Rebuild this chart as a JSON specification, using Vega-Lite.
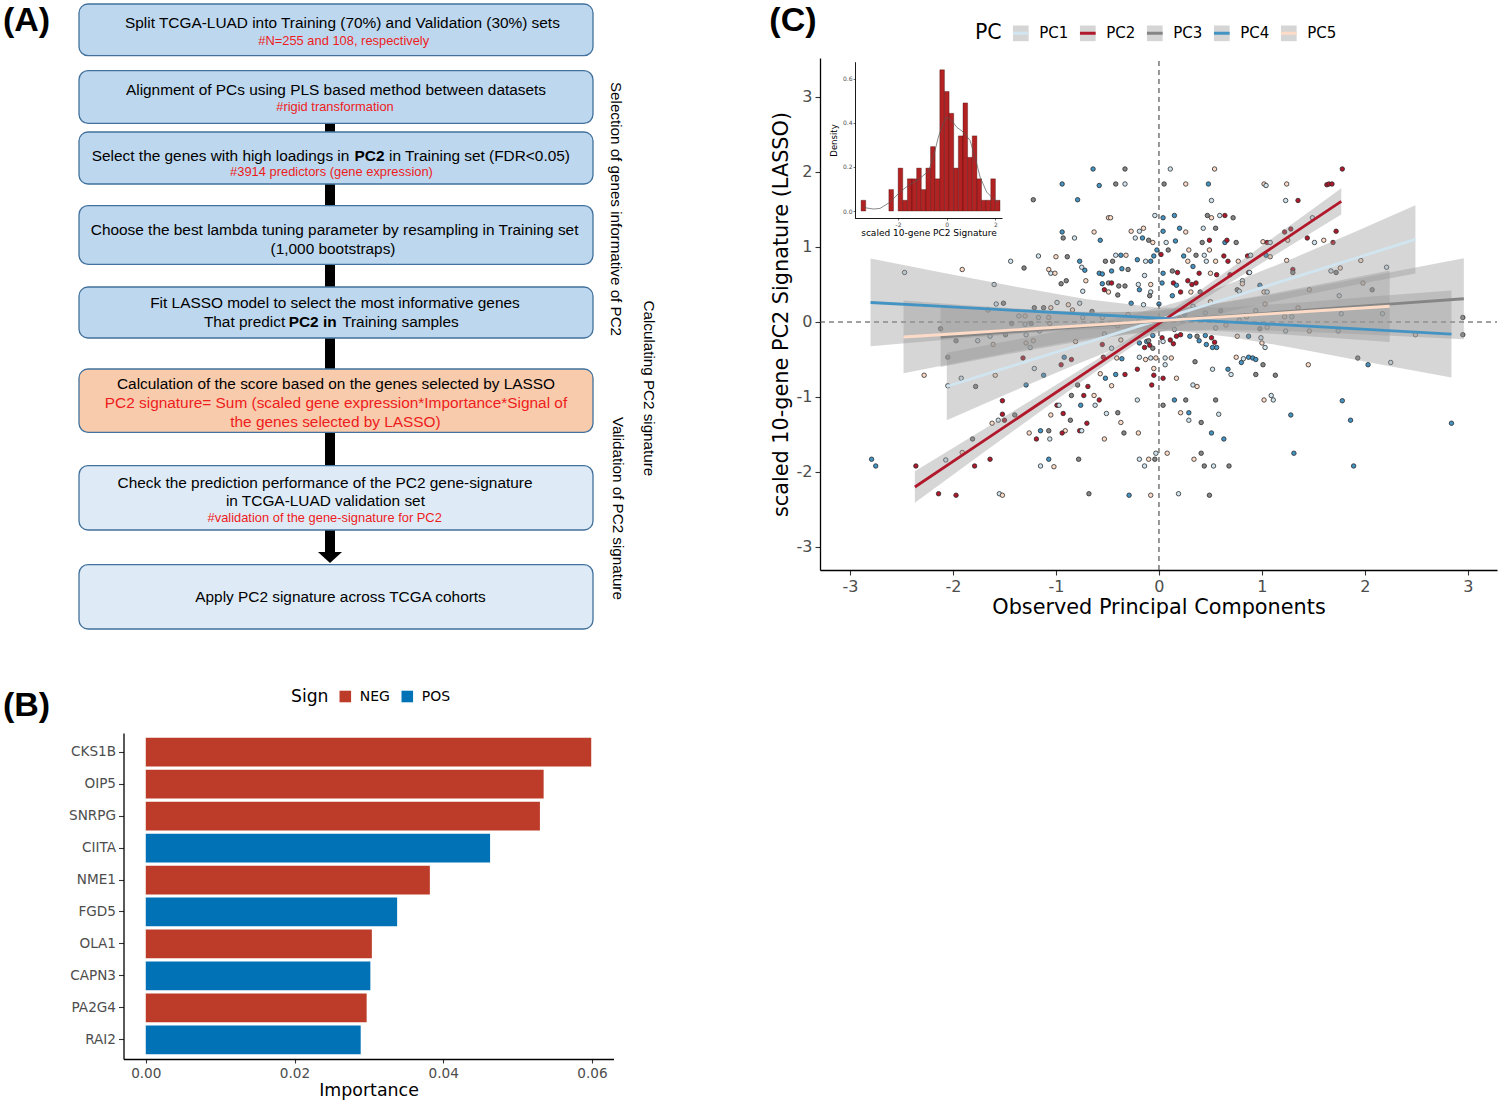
{
  "$schema": "https://vega.github.io/schema/vega-lite/v6.json",
  "width": 1500,
  "height": 1102,
  "autosize": {"type": "none"},
  "padding": 0,
  "background": "white",
  "config": {
    "view": {"stroke": null},
    "font": "DejaVu Sans",
    "axis": {"grid": false},
    "legend": {"padding": 0}
  },
  "datasets": {
    "flowBoxes": [
      {"x1": 0, "x2": 100, "y1": 0, "y2": 8.27, "kind": "step"},
      {"x1": 0, "x2": 100, "y1": 10.67, "y2": 19.09, "kind": "step"},
      {"x1": 0, "x2": 100, "y1": 20.48, "y2": 28.8, "kind": "step"},
      {"x1": 0, "x2": 100, "y1": 32.27, "y2": 41.65, "kind": "step"},
      {"x1": 0, "x2": 100, "y1": 45.28, "y2": 53.44, "kind": "step"},
      {"x1": 0, "x2": 100, "y1": 58.4, "y2": 68.53, "kind": "score"},
      {"x1": 0, "x2": 100, "y1": 73.87, "y2": 84.16, "kind": "check"},
      {"x1": 0, "x2": 100, "y1": 89.71, "y2": 100, "kind": "check"}
    ],
    "flowLinks": [
      {"x1": 47.86, "x2": 49.81, "y1": 18.8, "y2": 20.8},
      {"x1": 47.86, "x2": 49.81, "y1": 28.5, "y2": 32.6},
      {"x1": 47.86, "x2": 49.81, "y1": 41.3, "y2": 45.6},
      {"x1": 47.86, "x2": 49.81, "y1": 53.1, "y2": 58.7},
      {"x1": 47.86, "x2": 49.81, "y1": 68.2, "y2": 74.2},
      {"x1": 47.86, "x2": 49.81, "y1": 83.9, "y2": 88.0}
    ],
    "flowArrow": [{"x": 48.83, "y": 88.48}],
    "flowText": [
      {"t": "Split TCGA-LUAD into Training (70%) and Validation (30%) sets", "x": 51.25, "y": 3.09, "role": "main"},
      {"t": "#N=255 and 108, respectively", "x": 51.5, "y": 5.87, "role": "note"},
      {"t": "Alignment of PCs using PLS based method between datasets", "x": 50.0, "y": 13.76, "role": "main"},
      {"t": "#rigid transformation", "x": 49.8, "y": 16.43, "role": "note"},
      {"t": "Select the genes with high loadings in", "x": 2.49, "y": 24.27, "role": "mainL"},
      {"t": "PC2", "x": 53.6, "y": 24.27, "role": "boldL"},
      {"t": "in Training set (FDR<0.05)", "x": 60.31, "y": 24.27, "role": "mainL"},
      {"t": "#3914 predictors (gene expression)", "x": 49.12, "y": 26.93, "role": "note"},
      {"t": "Choose the best lambda tuning parameter by resampling in Training set", "x": 49.73, "y": 36.16, "role": "main"},
      {"t": "(1,000 bootstraps)", "x": 49.42, "y": 39.15, "role": "main"},
      {"t": "Fit LASSO model to select the most informative genes", "x": 49.8, "y": 47.89, "role": "main"},
      {"t": "That predict", "x": 24.3, "y": 50.83, "role": "mainL"},
      {"t": "PC2 in", "x": 40.8, "y": 50.83, "role": "boldL"},
      {"t": "Training samples", "x": 51.2, "y": 50.83, "role": "mainL"},
      {"t": "Calculation of the score based on the genes selected by LASSO", "x": 50.0, "y": 60.85, "role": "main"},
      {"t": "PC2 signature= Sum (scaled gene expression*Importance*Signal of", "x": 50.0, "y": 63.89, "role": "formula"},
      {"t": "the genes selected by LASSO)", "x": 49.9, "y": 66.83, "role": "formula"},
      {"t": "Check the prediction performance of the PC2 gene-signature", "x": 47.86, "y": 76.64, "role": "main"},
      {"t": "in TCGA-LUAD validation set", "x": 47.94, "y": 79.57, "role": "main"},
      {"t": "#validation of the gene-signature for PC2", "x": 47.8, "y": 82.29, "role": "note"},
      {"t": "Apply PC2 signature across TCGA cohorts", "x": 50.88, "y": 94.83, "role": "main"},
      {"t": "Selection of genes informative of PC2", "x": 104.57, "y": 32.8, "role": "side"},
      {"t": "Calculating PC2 signature", "x": 110.8, "y": 61.5, "role": "side"},
      {"t": "Validation of  PC2 signature", "x": 104.96, "y": 80.7, "role": "side"},
      {"t": "(A)", "x": -10.2, "y": 2.75, "role": "label"},
      {"t": "(B)", "x": -10.2, "y": 112.3, "role": "label"},
      {"t": "(C)", "x": 138.9, "y": 2.75, "role": "label"}
    ],
    "importance": [
      {"gene": "CKS1B", "importance": 0.0599, "sign": "NEG"},
      {"gene": "OIP5", "importance": 0.0535, "sign": "NEG"},
      {"gene": "SNRPG", "importance": 0.0530, "sign": "NEG"},
      {"gene": "CIITA", "importance": 0.0463, "sign": "POS"},
      {"gene": "NME1", "importance": 0.0382, "sign": "NEG"},
      {"gene": "FGD5", "importance": 0.0338, "sign": "POS"},
      {"gene": "OLA1", "importance": 0.0304, "sign": "NEG"},
      {"gene": "CAPN3", "importance": 0.0302, "sign": "POS"},
      {"gene": "PA2G4", "importance": 0.0297, "sign": "NEG"},
      {"gene": "RAI2", "importance": 0.0289, "sign": "POS"}
    ],
    "bands": [
      {"pc": "PC1", "x": -2.06, "fit": -0.860, "lo": -1.310, "hi": -0.410},
      {"pc": "PC1", "x": -1.5, "fit": -0.619, "lo": -0.973, "hi": -0.265},
      {"pc": "PC1", "x": -0.9, "fit": -0.360, "lo": -0.620, "hi": -0.100},
      {"pc": "PC1", "x": -0.3, "fit": -0.101, "lo": -0.286, "hi": 0.084},
      {"pc": "PC1", "x": 0.2, "fit": 0.114, "lo": -0.046, "hi": 0.274},
      {"pc": "PC1", "x": 0.7, "fit": 0.330, "lo": 0.145, "hi": 0.515},
      {"pc": "PC1", "x": 1.3, "fit": 0.588, "lo": 0.328, "hi": 0.848},
      {"pc": "PC1", "x": 1.9, "fit": 0.847, "lo": 0.493, "hi": 1.201},
      {"pc": "PC1", "x": 2.49, "fit": 1.101, "lo": 0.646, "hi": 1.556},
      {"pc": "PC2", "x": -2.37, "fit": -2.200, "lo": -2.410, "hi": -1.990},
      {"pc": "PC2", "x": -1.8, "fit": -1.676, "lo": -1.838, "hi": -1.514},
      {"pc": "PC2", "x": -1.2, "fit": -1.124, "lo": -1.239, "hi": -1.009},
      {"pc": "PC2", "x": -0.6, "fit": -0.572, "lo": -0.647, "hi": -0.497},
      {"pc": "PC2", "x": -0.1, "fit": -0.112, "lo": -0.172, "hi": -0.052},
      {"pc": "PC2", "x": 0.4, "fit": 0.348, "lo": 0.273, "hi": 0.423},
      {"pc": "PC2", "x": 1.0, "fit": 0.900, "lo": 0.785, "hi": 1.015},
      {"pc": "PC2", "x": 1.4, "fit": 1.268, "lo": 1.122, "hi": 1.414},
      {"pc": "PC2", "x": 1.77, "fit": 1.608, "lo": 1.432, "hi": 1.784},
      {"pc": "PC3", "x": -2.12, "fit": -0.200, "lo": -0.600, "hi": 0.200},
      {"pc": "PC3", "x": -1.5, "fit": -0.138, "lo": -0.438, "hi": 0.162},
      {"pc": "PC3", "x": -0.9, "fit": -0.077, "lo": -0.289, "hi": 0.135},
      {"pc": "PC3", "x": -0.3, "fit": -0.017, "lo": -0.167, "hi": 0.133},
      {"pc": "PC3", "x": 0.0, "fit": 0.013, "lo": -0.127, "hi": 0.153},
      {"pc": "PC3", "x": 0.5, "fit": 0.063, "lo": -0.103, "hi": 0.229},
      {"pc": "PC3", "x": 1.1, "fit": 0.123, "lo": -0.117, "hi": 0.363},
      {"pc": "PC3", "x": 1.7, "fit": 0.184, "lo": -0.148, "hi": 0.516},
      {"pc": "PC3", "x": 2.3, "fit": 0.244, "lo": -0.187, "hi": 0.675},
      {"pc": "PC3", "x": 2.96, "fit": 0.310, "lo": -0.230, "hi": 0.850},
      {"pc": "PC4", "x": -2.8, "fit": 0.260, "lo": -0.325, "hi": 0.845},
      {"pc": "PC4", "x": -2.1, "fit": 0.207, "lo": -0.241, "hi": 0.655},
      {"pc": "PC4", "x": -1.4, "fit": 0.155, "lo": -0.162, "hi": 0.472},
      {"pc": "PC4", "x": -0.7, "fit": 0.103, "lo": -0.096, "hi": 0.302},
      {"pc": "PC4", "x": 0.0, "fit": 0.051, "lo": -0.089, "hi": 0.191},
      {"pc": "PC4", "x": 0.7, "fit": -0.001, "lo": -0.200, "hi": 0.198},
      {"pc": "PC4", "x": 1.4, "fit": -0.053, "lo": -0.370, "hi": 0.264},
      {"pc": "PC4", "x": 2.1, "fit": -0.105, "lo": -0.553, "hi": 0.343},
      {"pc": "PC4", "x": 2.84, "fit": -0.161, "lo": -0.741, "hi": 0.419},
      {"pc": "PC5", "x": -2.48, "fit": -0.200, "lo": -0.685, "hi": 0.285},
      {"pc": "PC5", "x": -1.9, "fit": -0.150, "lo": -0.526, "hi": 0.226},
      {"pc": "PC5", "x": -1.3, "fit": -0.097, "lo": -0.366, "hi": 0.172},
      {"pc": "PC5", "x": -0.7, "fit": -0.045, "lo": -0.220, "hi": 0.130},
      {"pc": "PC5", "x": -0.1, "fit": 0.007, "lo": -0.123, "hi": 0.137},
      {"pc": "PC5", "x": 0.5, "fit": 0.059, "lo": -0.116, "hi": 0.234},
      {"pc": "PC5", "x": 1.1, "fit": 0.111, "lo": -0.158, "hi": 0.380},
      {"pc": "PC5", "x": 1.7, "fit": 0.163, "lo": -0.213, "hi": 0.539},
      {"pc": "PC5", "x": 2.24, "fit": 0.210, "lo": -0.267, "hi": 0.687}
    ],
    "hist": [
      {"x0": -3.520, "x1": -3.330, "density": 0.0487},
      {"x0": -2.378, "x1": -2.188, "density": 0.0973},
      {"x0": -1.998, "x1": -1.808, "density": 0.1946},
      {"x0": -1.808, "x1": -1.617, "density": 0.0487},
      {"x0": -1.617, "x1": -1.427, "density": 0.1460},
      {"x0": -1.427, "x1": -1.237, "density": 0.1460},
      {"x0": -1.237, "x1": -1.046, "density": 0.1946},
      {"x0": -1.046, "x1": -0.856, "density": 0.0973},
      {"x0": -0.856, "x1": -0.666, "density": 0.1946},
      {"x0": -0.666, "x1": -0.476, "density": 0.2920},
      {"x0": -0.476, "x1": -0.285, "density": 0.1460},
      {"x0": -0.285, "x1": -0.095, "density": 0.6400},
      {"x0": -0.095, "x1": 0.096, "density": 0.5420},
      {"x0": 0.096, "x1": 0.286, "density": 0.4430},
      {"x0": 0.286, "x1": 0.476, "density": 0.1946},
      {"x0": 0.476, "x1": 0.667, "density": 0.3406},
      {"x0": 0.667, "x1": 0.857, "density": 0.4900},
      {"x0": 0.857, "x1": 1.047, "density": 0.2433},
      {"x0": 1.047, "x1": 1.238, "density": 0.3406},
      {"x0": 1.238, "x1": 1.428, "density": 0.1460},
      {"x0": 1.428, "x1": 1.618, "density": 0.0487},
      {"x0": 1.618, "x1": 1.809, "density": 0.0487},
      {"x0": 1.809, "x1": 1.999, "density": 0.1460},
      {"x0": 1.999, "x1": 2.189, "density": 0.0487}
    ],
    "density": [
      {"x": -3.42, "d": 0.018},
      {"x": -3.31, "d": 0.014},
      {"x": -3.0, "d": 0.009},
      {"x": -2.74, "d": 0.012},
      {"x": -2.33, "d": 0.040},
      {"x": -1.92, "d": 0.086},
      {"x": -1.58, "d": 0.116},
      {"x": -1.17, "d": 0.142},
      {"x": -0.755, "d": 0.180},
      {"x": -0.55, "d": 0.245},
      {"x": -0.345, "d": 0.335},
      {"x": -0.14, "d": 0.400},
      {"x": 0.0, "d": 0.426},
      {"x": 0.205, "d": 0.410},
      {"x": 0.41, "d": 0.380},
      {"x": 0.68, "d": 0.358},
      {"x": 0.957, "d": 0.320},
      {"x": 1.16, "d": 0.245},
      {"x": 1.37, "d": 0.154},
      {"x": 1.64, "d": 0.086},
      {"x": 1.91, "d": 0.056},
      {"x": 2.1, "d": 0.042}
    ],
    "points": [
      {"pc":"PC1","x":-2.47,"y":0.66},{"pc":"PC5","x":-1.91,"y":0.70},{"pc":"PC3","x":-2.12,"y":-0.09},{"pc":"PC3","x":-1.97,"y":-0.25},
      {"pc":"PC1","x":-1.76,"y":-0.25},{"pc":"PC3","x":-2.05,"y":-0.47},{"pc":"PC5","x":-2.28,"y":-0.71},{"pc":"PC1","x":-1.92,"y":-0.75},
      {"pc":"PC3","x":-1.78,"y":-0.86},{"pc":"PC1","x":-2.05,"y":-0.85},{"pc":"PC3","x":-1.81,"y":-1.56},{"pc":"PC5","x":-1.91,"y":-1.74},
      {"pc":"PC1","x":-2.07,"y":-1.84},{"pc":"PC4","x":-2.79,"y":-1.83},{"pc":"PC4","x":-2.75,"y":-1.92},{"pc":"PC2","x":-2.36,"y":-1.92},
      {"pc":"PC2","x":-1.79,"y":-1.92},{"pc":"PC2","x":-2.14,"y":-2.29},{"pc":"PC2","x":-1.97,"y":-2.31},
      {"pc":"PC4","x":-0.64,"y":2.04},{"pc":"PC4","x":-0.94,"y":1.84},{"pc":"PC4","x":-0.58,"y":1.82},{"pc":"PC3","x":-1.22,"y":1.63},
      {"pc":"PC4","x":-0.79,"y":1.63},{"pc":"PC5","x":-0.49,"y":1.39},{"pc":"PC4","x":-0.94,"y":1.20},{"pc":"PC3","x":-0.93,"y":1.12},
      {"pc":"PC1","x":-0.82,"y":1.12},{"pc":"PC5","x":-0.63,"y":1.20},{"pc":"PC4","x":-0.57,"y":1.09},{"pc":"PC1","x":-1.17,"y":0.88},
      {"pc":"PC5","x":-1.00,"y":0.87},{"pc":"PC3","x":-0.89,"y":0.87},{"pc":"PC1","x":-1.44,"y":0.81},{"pc":"PC3","x":-1.31,"y":0.72},
      {"pc":"PC5","x":-1.07,"y":0.70},{"pc":"PC1","x":-1.05,"y":0.65},{"pc":"PC5","x":-1.01,"y":0.65},{"pc":"PC4","x":-0.77,"y":0.81},
      {"pc":"PC1","x":-0.75,"y":0.73},{"pc":"PC4","x":-0.72,"y":0.69},{"pc":"PC3","x":-0.52,"y":0.81},{"pc":"PC4","x":-0.58,"y":0.65},
      {"pc":"PC4","x":-0.55,"y":0.64},{"pc":"PC3","x":-0.95,"y":0.51},{"pc":"PC3","x":-0.90,"y":0.55},{"pc":"PC5","x":-0.71,"y":0.55},
      {"pc":"PC1","x":-0.74,"y":0.41},{"pc":"PC4","x":-0.55,"y":0.51},{"pc":"PC2","x":-0.53,"y":0.43},{"pc":"PC5","x":-0.49,"y":0.40},
      {"pc":"PC3","x":-0.49,"y":0.52},{"pc":"PC1","x":-1.60,"y":0.50},{"pc":"PC3","x":-1.51,"y":0.25},{"pc":"PC5","x":-1.66,"y":0.16},
      {"pc":"PC1","x":-1.58,"y":0.24},{"pc":"PC3","x":-1.21,"y":0.19},{"pc":"PC3","x":-1.12,"y":0.19},{"pc":"PC5","x":-1.05,"y":0.19},
      {"pc":"PC1","x":-0.99,"y":0.26},{"pc":"PC5","x":-0.88,"y":0.23},{"pc":"PC1","x":-0.77,"y":0.25},{"pc":"PC5","x":-0.84,"y":0.16},
      {"pc":"PC1","x":-1.36,"y":0.08},{"pc":"PC5","x":-1.30,"y":0.08},{"pc":"PC1","x":-1.17,"y":0.06},{"pc":"PC5","x":-1.07,"y":0.06},
      {"pc":"PC1","x":-0.74,"y":0.06},{"pc":"PC3","x":-0.65,"y":0.14},{"pc":"PC5","x":-0.55,"y":0.06},{"pc":"PC3","x":-1.43,"y":-0.02},
      {"pc":"PC1","x":-1.30,"y":-0.03},{"pc":"PC3","x":-1.24,"y":-0.02},{"pc":"PC5","x":-1.06,"y":-0.02},{"pc":"PC1","x":-1.64,"y":-0.19},
      {"pc":"PC3","x":-1.49,"y":-0.17},{"pc":"PC5","x":-1.61,"y":-0.30},{"pc":"PC1","x":-1.29,"y":-0.17},{"pc":"PC5","x":-1.22,"y":-0.25},
      {"pc":"PC1","x":-1.16,"y":-0.12},{"pc":"PC5","x":-1.29,"y":-0.28},{"pc":"PC1","x":-1.25,"y":-0.34},{"pc":"PC5","x":-0.81,"y":-0.26},
      {"pc":"PC1","x":-0.53,"y":-0.16},{"pc":"PC2","x":-0.55,"y":-0.30},{"pc":"PC2","x":-1.32,"y":-0.48},{"pc":"PC4","x":-0.92,"y":-0.47},
      {"pc":"PC2","x":-0.95,"y":-0.57},{"pc":"PC2","x":-0.85,"y":-0.50},{"pc":"PC2","x":-0.54,"y":-0.47},{"pc":"PC5","x":-1.59,"y":-0.71},
      {"pc":"PC1","x":-1.21,"y":-0.62},{"pc":"PC4","x":-1.12,"y":-0.71},{"pc":"PC4","x":-1.29,"y":-0.84},{"pc":"PC3","x":-0.79,"y":-0.84},
      {"pc":"PC2","x":-0.69,"y":-0.86},{"pc":"PC5","x":-0.57,"y":-0.69},{"pc":"PC4","x":-0.52,"y":-0.75},{"pc":"PC2","x":-1.52,"y":-1.05},
      {"pc":"PC2","x":-1.52,"y":-1.23},{"pc":"PC2","x":-1.50,"y":-1.31},{"pc":"PC1","x":-1.56,"y":-1.31},{"pc":"PC5","x":-1.62,"y":-1.35},
      {"pc":"PC3","x":-1.40,"y":-1.24},{"pc":"PC2","x":-0.99,"y":-1.11},{"pc":"PC1","x":-0.97,"y":-1.11},{"pc":"PC3","x":-0.85,"y":-0.98},
      {"pc":"PC2","x":-0.73,"y":-0.98},{"pc":"PC4","x":-0.76,"y":-1.11},{"pc":"PC5","x":-0.63,"y":-0.98},{"pc":"PC2","x":-0.58,"y":-1.04},
      {"pc":"PC1","x":-0.62,"y":-1.11},{"pc":"PC2","x":-0.93,"y":-1.22},{"pc":"PC5","x":-1.05,"y":-1.24},{"pc":"PC3","x":-0.86,"y":-1.31},
      {"pc":"PC2","x":-0.70,"y":-1.35},{"pc":"PC1","x":-0.51,"y":-1.22},{"pc":"PC5","x":-1.26,"y":-1.48},{"pc":"PC4","x":-1.15,"y":-1.45},
      {"pc":"PC3","x":-1.07,"y":-1.45},{"pc":"PC1","x":-1.06,"y":-1.56},{"pc":"PC2","x":-1.19,"y":-1.56},{"pc":"PC5","x":-0.91,"y":-1.45},
      {"pc":"PC2","x":-0.94,"y":-1.48},{"pc":"PC2","x":-0.77,"y":-1.45},{"pc":"PC1","x":-0.75,"y":-1.45},{"pc":"PC5","x":-0.53,"y":-1.56},
      {"pc":"PC2","x":-1.64,"y":-1.83},{"pc":"PC4","x":-1.07,"y":-1.83},{"pc":"PC1","x":-1.15,"y":-1.92},{"pc":"PC5","x":-1.02,"y":-1.93},
      {"pc":"PC3","x":-0.78,"y":-1.83},{"pc":"PC1","x":-1.55,"y":-2.29},{"pc":"PC5","x":-1.52,"y":-2.31},{"pc":"PC3","x":-0.68,"y":-2.29},
      {"pc":"PC3","x":-0.33,"y":2.04},{"pc":"PC1","x":0.11,"y":2.04},{"pc":"PC5","x":0.54,"y":2.04},{"pc":"PC3","x":-0.42,"y":1.84},
      {"pc":"PC1","x":-0.33,"y":1.84},{"pc":"PC3","x":0.05,"y":1.84},{"pc":"PC5","x":0.26,"y":1.84},{"pc":"PC4","x":0.48,"y":1.84},
      {"pc":"PC1","x":0.51,"y":1.62},{"pc":"PC5","x":-0.47,"y":1.39},{"pc":"PC1","x":-0.04,"y":1.42},{"pc":"PC4","x":0.04,"y":1.39},
      {"pc":"PC4","x":0.15,"y":1.42},{"pc":"PC3","x":0.47,"y":1.42},{"pc":"PC5","x":0.51,"y":1.39},{"pc":"PC1","x":0.59,"y":1.42},
      {"pc":"PC2","x":0.64,"y":1.42},{"pc":"PC3","x":0.72,"y":1.39},{"pc":"PC5","x":-0.27,"y":1.21},{"pc":"PC1","x":-0.19,"y":1.21},
      {"pc":"PC5","x":-0.15,"y":1.25},{"pc":"PC1","x":-0.23,"y":1.12},{"pc":"PC4","x":-0.16,"y":1.12},{"pc":"PC3","x":-0.10,"y":1.09},
      {"pc":"PC5","x":-0.06,"y":1.06},{"pc":"PC4","x":0.04,"y":1.21},{"pc":"PC1","x":0.07,"y":1.06},{"pc":"PC4","x":0.16,"y":1.08},
      {"pc":"PC4","x":0.20,"y":1.25},{"pc":"PC5","x":0.26,"y":1.20},{"pc":"PC1","x":0.43,"y":1.25},{"pc":"PC3","x":0.55,"y":1.25},
      {"pc":"PC3","x":0.42,"y":1.06},{"pc":"PC2","x":0.49,"y":1.09},{"pc":"PC4","x":0.64,"y":1.06},{"pc":"PC2","x":0.66,"y":1.09},
      {"pc":"PC5","x":0.29,"y":0.96},{"pc":"PC4","x":-0.02,"y":0.96},{"pc":"PC3","x":0.09,"y":0.96},{"pc":"PC1","x":-0.42,"y":0.89},
      {"pc":"PC4","x":-0.37,"y":0.89},{"pc":"PC5","x":-0.32,"y":0.89},{"pc":"PC3","x":-0.45,"y":0.81},{"pc":"PC4","x":-0.21,"y":0.83},
      {"pc":"PC1","x":-0.13,"y":0.81},{"pc":"PC4","x":-0.08,"y":0.81},{"pc":"PC4","x":-0.05,"y":0.88},{"pc":"PC2","x":0.02,"y":0.90},
      {"pc":"PC5","x":0.28,"y":0.81},{"pc":"PC4","x":0.24,"y":0.88},{"pc":"PC3","x":0.36,"y":0.89},{"pc":"PC1","x":0.44,"y":0.89},
      {"pc":"PC5","x":0.49,"y":0.96},{"pc":"PC1","x":0.46,"y":0.81},{"pc":"PC5","x":0.55,"y":0.81},{"pc":"PC2","x":0.63,"y":0.88},
      {"pc":"PC2","x":0.67,"y":0.81},{"pc":"PC4","x":-0.36,"y":0.71},{"pc":"PC3","x":-0.30,"y":0.70},{"pc":"PC4","x":-0.46,"y":0.68},
      {"pc":"PC1","x":-0.14,"y":0.62},{"pc":"PC4","x":0.04,"y":0.65},{"pc":"PC3","x":0.13,"y":0.68},{"pc":"PC2","x":0.18,"y":0.66},
      {"pc":"PC4","x":0.33,"y":0.74},{"pc":"PC2","x":0.39,"y":0.65},{"pc":"PC5","x":0.50,"y":0.65},{"pc":"PC2","x":0.56,"y":0.63},
      {"pc":"PC2","x":0.69,"y":0.63},{"pc":"PC2","x":-0.46,"y":0.52},{"pc":"PC3","x":-0.39,"y":0.48},{"pc":"PC3","x":-0.33,"y":0.48},
      {"pc":"PC1","x":-0.20,"y":0.50},{"pc":"PC5","x":-0.08,"y":0.50},{"pc":"PC4","x":0.03,"y":0.52},{"pc":"PC2","x":0.14,"y":0.52},
      {"pc":"PC4","x":0.17,"y":0.49},{"pc":"PC2","x":0.28,"y":0.55},{"pc":"PC2","x":0.32,"y":0.50},{"pc":"PC2","x":0.36,"y":0.52},
      {"pc":"PC4","x":-0.19,"y":0.43},{"pc":"PC1","x":-0.08,"y":0.40},{"pc":"PC2","x":0.21,"y":0.40},{"pc":"PC5","x":0.31,"y":0.40},
      {"pc":"PC3","x":0.40,"y":0.40},{"pc":"PC3","x":-0.40,"y":0.36},{"pc":"PC4","x":0.13,"y":0.35},{"pc":"PC4","x":0.00,"y":0.24},
      {"pc":"PC3","x":-0.09,"y":0.35},{"pc":"PC4","x":-0.27,"y":0.25},{"pc":"PC1","x":-0.15,"y":0.23},{"pc":"PC5","x":0.50,"y":0.27},
      {"pc":"PC1","x":0.33,"y":0.21},{"pc":"PC5","x":0.65,"y":-0.04},{"pc":"PC4","x":0.30,"y":-0.19},{"pc":"PC3","x":0.37,"y":-0.19},
      {"pc":"PC4","x":-0.06,"y":-0.18},{"pc":"PC2","x":0.03,"y":-0.21},{"pc":"PC1","x":0.04,"y":-0.26},{"pc":"PC2","x":0.11,"y":-0.24},
      {"pc":"PC2","x":0.14,"y":-0.29},{"pc":"PC2","x":0.17,"y":-0.19},{"pc":"PC2","x":0.21,"y":-0.17},{"pc":"PC4","x":0.39,"y":-0.25},
      {"pc":"PC4","x":0.45,"y":-0.18},{"pc":"PC4","x":0.46,"y":-0.30},{"pc":"PC2","x":0.51,"y":-0.21},{"pc":"PC2","x":0.54,"y":-0.27},
      {"pc":"PC4","x":0.52,"y":-0.34},{"pc":"PC4","x":0.56,"y":-0.34},{"pc":"PC5","x":-0.37,"y":-0.24},{"pc":"PC4","x":-0.19,"y":-0.28},
      {"pc":"PC4","x":-0.12,"y":-0.26},{"pc":"PC3","x":-0.10,"y":-0.25},{"pc":"PC2","x":-0.14,"y":-0.34},{"pc":"PC2","x":-0.09,"y":-0.31},
      {"pc":"PC3","x":-0.06,"y":-0.35},{"pc":"PC1","x":-0.46,"y":-0.35},{"pc":"PC5","x":-0.41,"y":-0.48},{"pc":"PC4","x":-0.36,"y":-0.49},
      {"pc":"PC1","x":-0.19,"y":-0.47},{"pc":"PC5","x":-0.13,"y":-0.50},{"pc":"PC1","x":-0.08,"y":-0.48},{"pc":"PC5","x":-0.03,"y":-0.48},
      {"pc":"PC1","x":0.06,"y":-0.48},{"pc":"PC5","x":0.12,"y":-0.48},{"pc":"PC1","x":0.06,"y":-0.57},{"pc":"PC3","x":0.35,"y":-0.53},
      {"pc":"PC2","x":-0.21,"y":-0.63},{"pc":"PC5","x":-0.05,"y":-0.62},{"pc":"PC2","x":-0.05,"y":-0.71},{"pc":"PC1","x":0.52,"y":-0.63},
      {"pc":"PC4","x":0.67,"y":-0.63},{"pc":"PC4","x":-0.42,"y":-0.70},{"pc":"PC2","x":-0.33,"y":-0.70},{"pc":"PC2","x":0.04,"y":-0.75},
      {"pc":"PC5","x":0.17,"y":-0.75},{"pc":"PC1","x":0.70,"y":-0.70},{"pc":"PC5","x":-0.46,"y":-0.85},{"pc":"PC2","x":-0.07,"y":-0.84},
      {"pc":"PC1","x":0.33,"y":-0.84},{"pc":"PC5","x":0.37,"y":-0.86},{"pc":"PC1","x":-0.21,"y":-1.04},{"pc":"PC4","x":0.15,"y":-1.04},
      {"pc":"PC3","x":0.26,"y":-1.04},{"pc":"PC3","x":0.55,"y":-1.04},{"pc":"PC3","x":0.04,"y":-1.11},{"pc":"PC3","x":-0.40,"y":-1.21},
      {"pc":"PC4","x":0.29,"y":-1.21},{"pc":"PC5","x":0.21,"y":-1.21},{"pc":"PC1","x":0.58,"y":-1.23},{"pc":"PC5","x":-0.37,"y":-1.34},
      {"pc":"PC1","x":0.29,"y":-1.31},{"pc":"PC3","x":0.41,"y":-1.34},{"pc":"PC3","x":-0.34,"y":-1.48},{"pc":"PC5","x":-0.20,"y":-1.48},
      {"pc":"PC4","x":0.51,"y":-1.48},{"pc":"PC4","x":0.63,"y":-1.56},{"pc":"PC3","x":0.41,"y":-1.75},{"pc":"PC1","x":-0.03,"y":-1.75},
      {"pc":"PC5","x":0.08,"y":-1.75},{"pc":"PC1","x":-0.19,"y":-1.83},{"pc":"PC5","x":-0.10,"y":-1.83},{"pc":"PC3","x":-0.04,"y":-1.83},
      {"pc":"PC1","x":-0.14,"y":-1.92},{"pc":"PC5","x":0.34,"y":-1.83},{"pc":"PC3","x":0.44,"y":-1.92},{"pc":"PC1","x":0.53,"y":-1.92},
      {"pc":"PC3","x":0.68,"y":-1.92},{"pc":"PC4","x":-0.29,"y":-2.31},{"pc":"PC5","x":-0.08,"y":-2.31},{"pc":"PC1","x":0.19,"y":-2.29},
      {"pc":"PC3","x":0.49,"y":-2.31},
      {"pc":"PC5","x":-0.30,"y":0.10},{"pc":"PC3","x":0.20,"y":0.05},{"pc":"PC1","x":0.45,"y":0.12},{"pc":"PC5","x":-0.40,"y":-0.05},
      {"pc":"PC3","x":0.60,"y":0.15},{"pc":"PC1","x":0.15,"y":-0.10},{"pc":"PC5","x":-0.20,"y":0.00},{"pc":"PC4","x":0.25,"y":0.10},
      {"pc":"PC1","x":0.55,"y":-0.08},
      {"pc":"PC2","x":1.78,"y":2.04},{"pc":"PC5","x":1.02,"y":1.84},{"pc":"PC1","x":1.04,"y":1.82},{"pc":"PC5","x":1.24,"y":1.84},
      {"pc":"PC2","x":1.63,"y":1.83},{"pc":"PC2","x":1.65,"y":1.84},{"pc":"PC2","x":1.68,"y":1.84},{"pc":"PC1","x":1.23,"y":1.62},
      {"pc":"PC2","x":1.35,"y":1.62},{"pc":"PC3","x":0.75,"y":1.06},{"pc":"PC5","x":1.01,"y":1.07},{"pc":"PC2","x":1.05,"y":1.06},
      {"pc":"PC1","x":1.08,"y":1.06},{"pc":"PC2","x":1.22,"y":1.20},{"pc":"PC2","x":1.28,"y":1.24},{"pc":"PC5","x":1.25,"y":1.09},
      {"pc":"PC2","x":1.44,"y":1.12},{"pc":"PC1","x":1.51,"y":1.06},{"pc":"PC5","x":1.60,"y":1.09},{"pc":"PC2","x":1.72,"y":1.21},
      {"pc":"PC2","x":1.69,"y":1.06},{"pc":"PC1","x":1.49,"y":1.39},{"pc":"PC5","x":0.77,"y":0.81},{"pc":"PC2","x":0.86,"y":0.88},
      {"pc":"PC1","x":0.89,"y":0.89},{"pc":"PC4","x":1.04,"y":0.89},{"pc":"PC5","x":1.08,"y":0.87},{"pc":"PC2","x":0.87,"y":0.66},
      {"pc":"PC1","x":0.88,"y":0.66},{"pc":"PC5","x":1.24,"y":0.82},{"pc":"PC2","x":1.30,"y":0.70},{"pc":"PC3","x":1.30,"y":0.66},
      {"pc":"PC1","x":1.67,"y":0.68},{"pc":"PC3","x":1.72,"y":0.66},{"pc":"PC5","x":1.76,"y":0.72},{"pc":"PC1","x":0.81,"y":0.55},
      {"pc":"PC5","x":0.81,"y":0.51},{"pc":"PC4","x":0.98,"y":0.49},{"pc":"PC3","x":0.76,"y":0.43},{"pc":"PC1","x":0.78,"y":0.41},
      {"pc":"PC5","x":1.02,"y":0.40},{"pc":"PC1","x":1.05,"y":0.40},{"pc":"PC5","x":1.46,"y":0.43},{"pc":"PC1","x":1.75,"y":0.35},
      {"pc":"PC5","x":1.03,"y":0.24},{"pc":"PC1","x":0.94,"y":0.15},{"pc":"PC5","x":1.35,"y":0.19},{"pc":"PC1","x":1.77,"y":0.11},
      {"pc":"PC5","x":1.22,"y":0.07},{"pc":"PC1","x":1.29,"y":0.07},{"pc":"PC5","x":0.85,"y":0.07},{"pc":"PC1","x":0.78,"y":0.02},
      {"pc":"PC5","x":1.05,"y":-0.07},{"pc":"PC3","x":0.98,"y":-0.09},{"pc":"PC1","x":1.23,"y":-0.12},{"pc":"PC5","x":1.46,"y":-0.12},
      {"pc":"PC1","x":1.74,"y":-0.12},{"pc":"PC5","x":0.76,"y":-0.19},{"pc":"PC4","x":0.87,"y":-0.19},{"pc":"PC1","x":0.99,"y":-0.21},
      {"pc":"PC5","x":1.00,"y":-0.28},{"pc":"PC1","x":1.03,"y":-0.34},{"pc":"PC5","x":0.75,"y":-0.47},{"pc":"PC4","x":0.80,"y":-0.54},
      {"pc":"PC1","x":0.82,"y":-0.49},{"pc":"PC4","x":0.87,"y":-0.47},{"pc":"PC4","x":0.91,"y":-0.48},{"pc":"PC4","x":0.94,"y":-0.50},
      {"pc":"PC3","x":1.01,"y":-0.57},{"pc":"PC3","x":0.94,"y":-0.70},{"pc":"PC3","x":1.13,"y":-0.71},{"pc":"PC5","x":1.45,"y":-0.57},
      {"pc":"PC3","x":1.93,"y":-0.48},{"pc":"PC1","x":1.09,"y":-0.98},{"pc":"PC5","x":1.02,"y":-1.04},{"pc":"PC1","x":1.11,"y":-1.04},
      {"pc":"PC4","x":1.78,"y":-1.05},{"pc":"PC4","x":1.28,"y":-1.24},{"pc":"PC4","x":1.86,"y":-1.31},{"pc":"PC4","x":1.31,"y":-1.75},
      {"pc":"PC4","x":1.89,"y":-1.92},
      {"pc":"PC5","x":1.96,"y":0.82},{"pc":"PC1","x":2.21,"y":0.73},{"pc":"PC5","x":1.98,"y":0.52},{"pc":"PC3","x":2.07,"y":0.43},
      {"pc":"PC1","x":2.17,"y":0.11},{"pc":"PC3","x":2.95,"y":0.06},{"pc":"PC3","x":2.95,"y":-0.17},{"pc":"PC5","x":2.49,"y":-0.17},
      {"pc":"PC4","x":2.03,"y":-0.57},{"pc":"PC1","x":2.25,"y":-0.54},{"pc":"PC4","x":2.84,"y":-1.35}
    ]
  },
  "layer": [
    {
      "data": {"name": "flowLinks"},
      "mark": {"type": "rect", "color": "black"},
      "encoding": {
        "x": {"field": "x1", "type": "quantitative", "scale": {"domain": [0, 100], "range": [79, 593], "nice": false, "zero": false}, "axis": null},
        "x2": {"field": "x2"},
        "y": {"field": "y1", "type": "quantitative", "scale": {"domain": [0, 100], "range": [4, 629], "nice": false, "zero": false}, "axis": null},
        "y2": {"field": "y2"}
      }
    },
    {
      "data": {"name": "flowArrow"},
      "mark": {"type": "point", "shape": "M-1.2,-0.5L1.2,-0.5L0,0.6Z", "filled": true, "color": "black", "size": 400, "opacity": 1},
      "encoding": {
        "x": {"field": "x", "type": "quantitative", "scale": {"domain": [0, 100], "range": [79, 593], "nice": false, "zero": false}, "axis": null},
        "y": {"field": "y", "type": "quantitative", "scale": {"domain": [0, 100], "range": [4, 629], "nice": false, "zero": false}, "axis": null}
      }
    },
    {
      "data": {"name": "flowBoxes"},
      "mark": {"type": "rect", "cornerRadius": 9, "stroke": "#41719C", "strokeWidth": 1.3},
      "encoding": {
        "x": {"field": "x1", "type": "quantitative", "scale": {"domain": [0, 100], "range": [79, 593], "nice": false, "zero": false}, "axis": null},
        "x2": {"field": "x2"},
        "y": {"field": "y1", "type": "quantitative", "scale": {"domain": [0, 100], "range": [4, 629], "nice": false, "zero": false}, "axis": null},
        "y2": {"field": "y2"},
        "fill": {"field": "kind", "type": "nominal", "scale": {"domain": ["step", "score", "check"], "range": ["#BDD7EE", "#F8CBAD", "#DEEBF7"]}, "legend": null}
      }
    },
    {
      "data": {"name": "flowText"},
      "transform": [{"filter": "datum.role === 'main'"}],
      "mark": {"type": "text", "font": "Liberation Sans", "fontSize": 15.4, "color": "black", "align": "center", "baseline": "middle"},
      "encoding": {
        "x": {"field": "x", "type": "quantitative", "scale": {"domain": [0, 100], "range": [79, 593], "nice": false, "zero": false}, "axis": null},
        "y": {"field": "y", "type": "quantitative", "scale": {"domain": [0, 100], "range": [4, 629], "nice": false, "zero": false}, "axis": null},
        "text": {"field": "t"}
      }
    },
    {
      "data": {"name": "flowText"},
      "transform": [{"filter": "datum.role === 'mainL'"}],
      "mark": {"type": "text", "font": "Liberation Sans", "fontSize": 15.4, "color": "black", "align": "left", "baseline": "middle"},
      "encoding": {
        "x": {"field": "x", "type": "quantitative", "scale": {"domain": [0, 100], "range": [79, 593], "nice": false, "zero": false}, "axis": null},
        "y": {"field": "y", "type": "quantitative", "scale": {"domain": [0, 100], "range": [4, 629], "nice": false, "zero": false}, "axis": null},
        "text": {"field": "t"}
      }
    },
    {
      "data": {"name": "flowText"},
      "transform": [{"filter": "datum.role === 'boldL'"}],
      "mark": {"type": "text", "font": "Liberation Sans", "fontSize": 15.4, "fontWeight": "bold", "color": "black", "align": "left", "baseline": "middle"},
      "encoding": {
        "x": {"field": "x", "type": "quantitative", "scale": {"domain": [0, 100], "range": [79, 593], "nice": false, "zero": false}, "axis": null},
        "y": {"field": "y", "type": "quantitative", "scale": {"domain": [0, 100], "range": [4, 629], "nice": false, "zero": false}, "axis": null},
        "text": {"field": "t"}
      }
    },
    {
      "data": {"name": "flowText"},
      "transform": [{"filter": "datum.role === 'note'"}],
      "mark": {"type": "text", "font": "Liberation Sans", "fontSize": 12.9, "color": "#EE1C1C", "align": "center", "baseline": "middle"},
      "encoding": {
        "x": {"field": "x", "type": "quantitative", "scale": {"domain": [0, 100], "range": [79, 593], "nice": false, "zero": false}, "axis": null},
        "y": {"field": "y", "type": "quantitative", "scale": {"domain": [0, 100], "range": [4, 629], "nice": false, "zero": false}, "axis": null},
        "text": {"field": "t"}
      }
    },
    {
      "data": {"name": "flowText"},
      "transform": [{"filter": "datum.role === 'formula'"}],
      "mark": {"type": "text", "font": "Liberation Sans", "fontSize": 15.4, "color": "#EE1C1C", "align": "center", "baseline": "middle"},
      "encoding": {
        "x": {"field": "x", "type": "quantitative", "scale": {"domain": [0, 100], "range": [79, 593], "nice": false, "zero": false}, "axis": null},
        "y": {"field": "y", "type": "quantitative", "scale": {"domain": [0, 100], "range": [4, 629], "nice": false, "zero": false}, "axis": null},
        "text": {"field": "t"}
      }
    },
    {
      "data": {"name": "flowText"},
      "transform": [{"filter": "datum.role === 'side'"}],
      "mark": {"type": "text", "font": "Liberation Sans", "fontSize": 15.2, "color": "black", "align": "center", "baseline": "middle", "angle": 90},
      "encoding": {
        "x": {"field": "x", "type": "quantitative", "scale": {"domain": [0, 100], "range": [79, 593], "nice": false, "zero": false}, "axis": null},
        "y": {"field": "y", "type": "quantitative", "scale": {"domain": [0, 100], "range": [4, 629], "nice": false, "zero": false}, "axis": null},
        "text": {"field": "t"}
      }
    },
    {
      "data": {"name": "flowText"},
      "transform": [{"filter": "datum.role === 'label'"}],
      "mark": {"type": "text", "font": "Liberation Sans", "fontSize": 34, "fontWeight": "bold", "color": "black", "align": "center", "baseline": "middle"},
      "encoding": {
        "x": {"field": "x", "type": "quantitative", "scale": {"domain": [0, 100], "range": [79, 593], "nice": false, "zero": false}, "axis": null},
        "y": {"field": "y", "type": "quantitative", "scale": {"domain": [0, 100], "range": [4, 629], "nice": false, "zero": false}, "axis": null},
        "text": {"field": "t"}
      }
    },
    {
      "data": {"name": "importance"},
      "mark": {"type": "bar"},
      "encoding": {
        "x": {
          "field": "importance", "type": "quantitative",
          "scale": {"domain": [-0.002995, 0.062895], "range": [123.5, 613.5], "nice": false, "zero": false},
          "axis": {"orient": "bottom", "offset": -43, "values": [0, 0.02, 0.04, 0.06], "format": ".2f", "title": "Importance", "titleFontSize": 17.4, "titleFontWeight": "normal", "titleColor": "black", "titlePadding": 2, "labelFontSize": 13.6, "labelColor": "#4D4D4D", "labelPadding": 3, "tickSize": 4, "tickColor": "#333333", "tickWidth": 1.1, "domainColor": "black", "domainWidth": 1.3}
        },
        "x2": {"datum": 0},
        "y": {
          "field": "gene", "type": "nominal", "sort": null,
          "scale": {"type": "band", "domain": ["CKS1B", "OIP5", "SNRPG", "CIITA", "NME1", "FGD5", "OLA1", "CAPN3", "PA2G4", "RAI2"], "range": [733, 1059], "paddingInner": 0.1, "paddingOuter": 0.15},
          "axis": {"orient": "left", "offset": -123.5, "title": null, "labelFontSize": 13.6, "labelColor": "#4D4D4D", "labelPadding": 3, "tickSize": 5, "tickColor": "#333333", "tickWidth": 1.1, "domainColor": "black", "domainWidth": 1.3}
        },
        "color": {
          "field": "sign", "type": "nominal",
          "scale": {"domain": ["NEG", "POS"], "range": ["#BC3C29", "#0072B5"]},
          "legend": {"orient": "none", "legendX": 291, "legendY": 689.5, "direction": "horizontal", "titleOrient": "left", "title": "Sign", "titleFontSize": 17.2, "titleFontWeight": "normal", "titleColor": "black", "titlePadding": 9.3, "labelFontSize": 14, "labelColor": "black", "labelOffset": 7.4, "columnPadding": 10, "symbolType": "square", "symbolSize": 134, "symbolStrokeWidth": 0, "symbolOpacity": 1, "padding": 0}
        }
      }
    },
    {
      "data": {"name": "points"},
      "mark": {"type": "point", "filled": true, "size": 20, "stroke": "#2b2b2b", "strokeWidth": 0.8, "opacity": 1},
      "encoding": {
        "x": {
          "field": "x", "type": "quantitative",
          "scale": {"domain": [-3.291, 3.282], "range": [820, 1497], "nice": false, "zero": false},
          "axis": {"orient": "bottom", "offset": -532, "values": [-3, -2, -1, 0, 1, 2, 3], "labelExpr": "replace(datum.label, '\u2212', '-')", "title": "Observed Principal Components", "titleFontSize": 20.8, "titleFontWeight": "normal", "titleColor": "black", "titlePadding": 3, "labelFontSize": 16, "labelColor": "#4D4D4D", "labelPadding": 3, "tickSize": 5, "tickColor": "#333333", "tickWidth": 1.1, "domainColor": "black", "domainWidth": 1.3}
        },
        "y": {
          "field": "y", "type": "quantitative",
          "scale": {"domain": [-3.307, 3.52], "range": [570, 58], "nice": false, "zero": false},
          "axis": {"orient": "left", "offset": -820, "values": [-3, -2, -1, 0, 1, 2, 3], "labelExpr": "replace(datum.label, '\u2212', '-')", "title": "scaled 10-gene PC2 Signature (LASSO)", "titleFontSize": 20.8, "titleFontWeight": "normal", "titleColor": "black", "titlePadding": 5, "labelFontSize": 16, "labelColor": "#4D4D4D", "labelPadding": 3, "tickSize": 5, "tickColor": "#333333", "tickWidth": 1.1, "domainColor": "black", "domainWidth": 1.3}
        },
        "color": {
          "field": "pc", "type": "nominal",
          "scale": {"domain": ["PC1", "PC2", "PC3", "PC4", "PC5"], "range": ["#D1E5F0", "#B2182B", "#858585", "#4393C3", "#FDDBC7"]},
          "legend": null
        }
      }
    },
    {
      "data": {"values": [{"v": 0}]},
      "mark": {"type": "rule", "color": "#444444", "strokeDash": [5, 4], "strokeWidth": 1.1},
      "encoding": {
        "x": {"field": "v", "type": "quantitative", "scale": {"domain": [-3.291, 3.282], "range": [820, 1497], "nice": false, "zero": false}, "axis": null},
        "y": {"datum": -3.307, "type": "quantitative", "scale": {"domain": [-3.307, 3.52], "range": [570, 58], "nice": false, "zero": false}, "axis": null},
        "y2": {"datum": 3.52}
      }
    },
    {
      "data": {"values": [{"v": 0}]},
      "mark": {"type": "rule", "color": "#444444", "strokeDash": [5, 4], "strokeWidth": 1.1},
      "encoding": {
        "y": {"field": "v", "type": "quantitative", "scale": {"domain": [-3.307, 3.52], "range": [570, 58], "nice": false, "zero": false}, "axis": null},
        "x": {"datum": -3.291, "type": "quantitative", "scale": {"domain": [-3.291, 3.282], "range": [820, 1497], "nice": false, "zero": false}, "axis": null},
        "x2": {"datum": 3.282}
      }
    },
    {
      "data": {"name": "bands"},
      "mark": {"type": "area", "opacity": 0.4},
      "encoding": {
        "x": {"field": "x", "type": "quantitative", "scale": {"domain": [-3.291, 3.282], "range": [820, 1497], "nice": false, "zero": false}, "axis": null},
        "y": {"field": "lo", "type": "quantitative", "scale": {"domain": [-3.307, 3.52], "range": [570, 58], "nice": false, "zero": false}, "axis": null},
        "y2": {"field": "hi"},
        "fill": {
          "field": "pc", "type": "nominal",
          "scale": {"domain": ["PC1", "PC2", "PC3", "PC4", "PC5"], "range": ["#999999", "#999999", "#999999", "#999999", "#999999"]},
          "legend": {"orient": "none", "legendX": 975, "legendY": 23.5, "direction": "horizontal", "titleOrient": "left", "title": "PC", "titleFontSize": 20.5, "titleFontWeight": "normal", "titleOpacity": 0, "titlePadding": 9.3, "labelFontSize": 15, "labelOpacity": 0, "labelOffset": 9, "columnPadding": 4, "symbolType": "square", "symbolSize": 246, "symbolStrokeWidth": 3, "symbolStrokeColor": "transparent", "symbolOpacity": 0.4, "padding": 0}
        }
      }
    },
    {
      "data": {"name": "bands"},
      "mark": {"type": "line", "strokeWidth": 2.8},
      "encoding": {
        "x": {"field": "x", "type": "quantitative", "scale": {"domain": [-3.291, 3.282], "range": [820, 1497], "nice": false, "zero": false}, "axis": null},
        "y": {"field": "fit", "type": "quantitative", "scale": {"domain": [-3.307, 3.52], "range": [570, 58], "nice": false, "zero": false}, "axis": null},
        "stroke": {
          "field": "pc", "type": "nominal",
          "scale": {"domain": ["PC1", "PC2", "PC3", "PC4", "PC5"], "range": ["#D1E5F0", "#B2182B", "#858585", "#4393C3", "#FDDBC7"]},
          "legend": {"orient": "none", "legendX": 975, "legendY": 23.5, "direction": "horizontal", "titleOrient": "left", "title": "PC", "titleFontSize": 20.5, "titleFontWeight": "normal", "titleColor": "black", "titlePadding": 9.3, "labelFontSize": 15, "labelColor": "black", "labelOffset": 9, "columnPadding": 4, "symbolType": "stroke", "symbolSize": 246, "symbolStrokeWidth": 3, "padding": 0}
        }
      }
    },
    {
      "data": {"name": "hist"},
      "mark": {"type": "rect", "fill": "#B22222", "stroke": "#3a0a0a", "strokeWidth": 0.35},
      "encoding": {
        "x": {
          "field": "x0", "type": "quantitative",
          "scale": {"domain": [-3.77, 2.27], "range": [855, 1002], "nice": false, "zero": false},
          "axis": {"orient": "bottom", "offset": -884, "values": [-2, 0, 2], "labelExpr": "replace(datum.label, '\u2212', '-')", "title": "scaled 10-gene PC2 Signature", "titleFontSize": 9, "titleFontWeight": "normal", "titleColor": "black", "titlePadding": 1.5, "labelFontSize": 6, "labelColor": "#4D4D4D", "labelPadding": 1, "tickSize": 2, "tickColor": "#333333", "tickWidth": 0.7, "domainColor": "black", "domainWidth": 0.9}
        },
        "x2": {"field": "x1"},
        "y": {
          "field": "density", "type": "quantitative",
          "scale": {"domain": [-0.033, 0.677], "range": [218.3, 61.7], "nice": false, "zero": false},
          "axis": {"orient": "left", "offset": -855, "values": [0, 0.2, 0.4, 0.6], "format": ".1f", "title": "Density", "titleFontSize": 8.5, "titleFontWeight": "normal", "titleColor": "black", "titlePadding": 4, "labelFontSize": 6, "labelColor": "#4D4D4D", "labelPadding": 1, "tickSize": 2, "tickColor": "#333333", "tickWidth": 0.7, "domainColor": "black", "domainWidth": 0.9}
        },
        "y2": {"datum": 0}
      }
    },
    {
      "data": {"name": "density"},
      "mark": {"type": "line", "color": "#555555", "strokeWidth": 0.7},
      "encoding": {
        "x": {"field": "x", "type": "quantitative", "scale": {"domain": [-3.77, 2.27], "range": [855, 1002], "nice": false, "zero": false}, "axis": null},
        "y": {"field": "d", "type": "quantitative", "scale": {"domain": [-0.033, 0.677], "range": [218.3, 61.7], "nice": false, "zero": false}, "axis": null}
      }
    }
  ],
  "resolve": {
    "scale": {"x": "independent", "y": "independent", "color": "independent", "fill": "independent", "stroke": "independent"},
    "axis": {"x": "independent", "y": "independent"},
    "legend": {"color": "independent", "fill": "independent", "stroke": "independent"}
  }
}
